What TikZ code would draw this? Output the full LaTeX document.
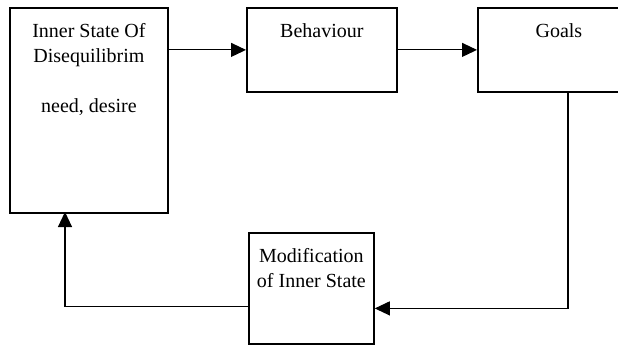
\documentclass[tikz,border=0pt]{standalone}
\usepackage{fontspec}
\setmainfont{Liberation Serif}
\usetikzlibrary{positioning,arrows.meta}
\tikzset{
  box/.style = {draw, line width=1.8pt, anchor=north west, inner sep=0pt},
  lbl/.style = {inner sep=0pt, align=center, font=\rmfamily\fontsize{20}{25}\selectfont},
  conn/.style = {line width=1.1pt, -{Triangle[length=15pt,width=14pt]}},
}

\begin{document}
\begin{tikzpicture}[x=1pt,y=-1pt]
  \useasboundingbox (0,0) rectangle (618,345);
  % boxes
  \node[box, minimum width=158pt, minimum height=205pt] (inner) at (9,7) {};
  \node[box, minimum width=150pt, minimum height=84pt] (behav) at (246,7) {};
  \node[box, minimum width=162pt, minimum height=84pt] (goals) at (477,7) {};
  \node[box, minimum width=125pt, minimum height=111pt] (mod) at (248,232) {};
  % texts
  \node[lbl, below=16pt of inner.north] (innerlbl) {Inner State Of\\Disequilibrim\\[25pt]need, desire};
  \node[lbl, below=16pt of behav.north] (behavlbl) {Behaviour};
  \node[lbl, below=16pt of goals.north] (goalslbl) {Goals};
  \node[lbl, below=16pt of mod.north] (modlbl) {Modification\\of Inner State};
  % connectors
  \coordinate (drop) at (568,91);
  \coordinate (rise) at (65,212);
  \draw[conn] (inner.east |- behav.west) -- (behav.west);
  \draw[conn] (behav.east) -- (goals.west);
  \draw[conn] (drop) |- ([yshift=-20pt]mod.east);
  \draw[conn] ([yshift=-18pt]mod.west) -| (rise);
\end{tikzpicture}
\end{document}
